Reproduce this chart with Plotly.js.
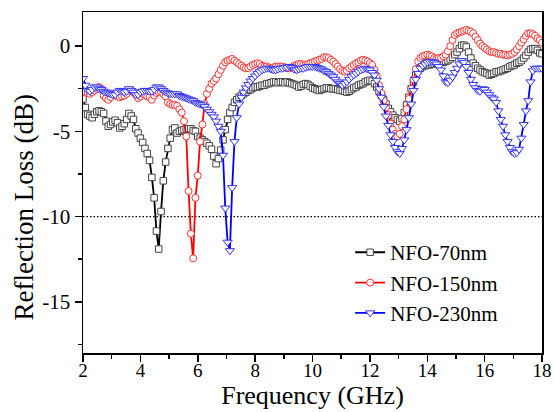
<!DOCTYPE html>
<html><head><meta charset="utf-8">
<script src="https://cdn.plot.ly/plotly-3.0.1.min.js"></script>
<style>html,body{margin:0;padding:0;background:#fff}#chart{width:554px;height:412px}</style>
</head><body><div id="chart"></div>
<script>
// Frequency sweep: 2 to 18 GHz, 0.08 GHz step (201 points)
const fStart = 2, fStep = 0.08;
const seriesNames = ['NFO-70nm', 'NFO-150nm', 'NFO-230nm'];

const rl70 = [
 -3.1,-3.6,-4.0,-4.1,-4.2,-4.0,-3.85,-3.8,-3.85,-3.95,
 -4.4,-4.7,-4.6,-4.45,-4.35,-4.5,-4.8,-4.7,-4.55,-4.3,
 -3.95,-4.1,-4.3,-4.85,-5.1,-5.4,-5.65,-6.0,-6.3,-6.7,
 -7.7,-8.9,-10.85,-11.9,-9.7,-7.9,-6.8,-6.0,-5.4,-4.9,
 -4.8,-5.1,-5.0,-4.95,-4.9,-4.85,-4.85,-4.85,-4.95,-5.0,
 -5.3,-5.4,-5.5,-5.6,-5.7,-5.85,-6.05,-6.45,-6.9,-6.6,
 -6.1,-5.5,-4.9,-4.3,-3.9,-3.6,-3.3,-3.15,-3.0,-2.9,
 -2.8,-2.7,-2.6,-2.55,-2.45,-2.4,-2.4,-2.35,-2.3,-2.3,
 -2.2,-2.2,-2.15,-2.1,-2.1,-2.15,-2.1,-2.1,-2.15,-2.1,
 -2.15,-2.2,-2.25,-2.3,-2.4,-2.35,-2.25,-2.2,-2.25,-2.35,
 -2.45,-2.5,-2.55,-2.6,-2.55,-2.5,-2.45,-2.45,-2.5,-2.5,
 -2.5,-2.55,-2.6,-2.6,-2.65,-2.7,-2.65,-2.55,-2.45,-2.4,
 -2.3,-2.25,-2.2,-2.1,-2.05,-2.0,-2.05,-2.2,-2.4,-2.65,
 -2.9,-3.15,-3.4,-3.65,-3.85,-4.05,-4.2,-4.3,-4.4,-4.25,
 -3.9,-3.45,-3.0,-2.5,-2.1,-1.7,-1.45,-1.3,-1.2,-1.15,
 -1.1,-1.1,-1.05,-1.05,-1.0,-1.0,-0.95,-0.95,-0.9,-0.85,
 -0.75,-0.65,-0.5,-0.35,-0.15,0.05,0.05,-0.05,-0.35,-0.7,
 -1.0,-1.15,-1.3,-1.4,-1.5,-1.55,-1.6,-1.7,-1.65,-1.6,
 -1.5,-1.5,-1.45,-1.4,-1.35,-1.3,-1.2,-1.15,-1.1,-1.0,
 -0.95,-0.85,-0.7,-0.55,-0.35,-0.2,-0.15,-0.15,-0.25,-0.4,
 -0.45
];

const rl150 = [
 -2.6,-2.7,-2.75,-2.8,-2.7,-2.6,-2.5,-2.4,-2.5,-2.9,
 -3.05,-3.15,-3.0,-2.8,-2.85,-2.95,-3.0,-2.95,-2.9,-2.8,
 -2.6,-2.6,-2.7,-2.85,-3.05,-2.95,-2.8,-2.85,-2.95,-3.0,
 -3.15,-2.9,-2.75,-2.7,-2.7,-2.8,-2.95,-3.3,-3.4,-3.45,
 -3.45,-3.5,-3.7,-3.9,-4.4,-5.3,-8.5,-11.0,-12.45,-8.9,
 -7.6,-5.6,-4.6,-3.4,-2.8,-2.5,-2.2,-2.05,-1.9,-1.65,
 -1.4,-1.15,-0.95,-0.85,-0.8,-0.75,-0.85,-0.95,-1.05,-1.15,
 -1.25,-1.3,-1.3,-1.2,-1.1,-1.05,-1.0,-1.05,-1.15,-1.2,
 -1.2,-1.25,-1.3,-1.25,-1.2,-1.2,-1.2,-1.2,-1.25,-1.3,
 -1.3,-1.25,-1.15,-1.1,-1.05,-1.05,-1.1,-1.1,-1.05,-1.0,
 -0.95,-0.9,-0.85,-0.8,-0.75,-0.65,-0.65,-0.7,-0.8,-0.9,
 -1.05,-1.2,-1.35,-1.45,-1.5,-1.45,-1.3,-1.2,-1.1,-1.0,
 -0.95,-0.85,-0.8,-0.85,-0.9,-1.0,-1.1,-1.4,-1.75,-2.3,
 -2.75,-3.2,-3.6,-4.05,-4.55,-4.9,-5.15,-5.3,-5.15,-4.7,
 -4.3,-3.7,-3.1,-2.5,-1.95,-1.35,-0.9,-0.7,-0.6,-0.55,
 -0.5,-0.55,-0.6,-0.7,-0.75,-0.7,-0.7,-0.6,-0.5,-0.3,
 0.0,0.35,0.65,0.75,0.8,0.85,0.9,0.95,0.9,0.85,
 0.75,0.55,0.35,0.15,0.0,-0.1,-0.2,-0.3,-0.35,-0.35,
 -0.4,-0.45,-0.45,-0.5,-0.5,-0.55,-0.5,-0.45,-0.35,-0.2,
 0.0,0.2,0.4,0.6,0.75,0.75,0.7,0.6,0.45,0.35,
 0.2
];

const rl230 = [
 -1.9,-2.3,-2.6,-2.65,-2.55,-2.4,-2.4,-2.5,-2.55,-2.65,
 -2.7,-2.75,-2.8,-2.85,-2.85,-2.7,-2.6,-2.65,-2.7,-2.65,
 -2.5,-2.6,-2.7,-2.85,-2.85,-2.7,-2.65,-2.6,-2.6,-2.65,
 -2.65,-2.55,-2.4,-2.4,-2.5,-2.6,-2.7,-2.75,-2.8,-2.8,
 -2.8,-2.8,-2.9,-2.95,-3.0,-3.05,-3.1,-3.15,-3.2,-3.3,
 -3.35,-3.4,-3.45,-3.55,-3.7,-3.85,-4.0,-4.15,-4.4,-4.7,
 -5.0,-6.4,-9.5,-11.5,-12.0,-8.3,-5.6,-4.2,-3.4,-3.0,
 -2.7,-2.45,-2.25,-2.05,-1.9,-1.75,-1.6,-1.5,-1.4,-1.35,
 -1.3,-1.3,-1.35,-1.4,-1.4,-1.35,-1.3,-1.3,-1.25,-1.25,
 -1.2,-1.25,-1.35,-1.4,-1.35,-1.3,-1.3,-1.25,-1.2,-1.2,
 -1.2,-1.2,-1.25,-1.3,-1.35,-1.45,-1.5,-1.6,-1.7,-1.8,
 -1.95,-2.1,-2.2,-2.3,-2.2,-2.1,-1.95,-1.8,-1.7,-1.6,
 -1.5,-1.4,-1.35,-1.3,-1.35,-1.4,-1.55,-1.7,-2.0,-2.5,
 -3.0,-3.55,-4.1,-4.65,-5.2,-5.6,-5.95,-6.2,-6.3,-6.0,
 -5.5,-4.9,-4.2,-3.4,-2.6,-1.95,-1.6,-1.3,-1.15,-1.05,
 -0.95,-0.9,-0.9,-0.95,-1.05,-1.2,-1.4,-1.75,-2.1,-2.15,
 -2.0,-1.8,-1.55,-1.3,-1.05,-0.85,-0.95,-1.2,-1.55,-1.95,
 -2.25,-2.45,-2.6,-2.65,-2.5,-2.55,-2.7,-2.85,-3.0,-3.1,
 -3.3,-3.8,-4.3,-4.7,-5.2,-5.6,-5.95,-6.2,-6.3,-6.25,
 -6.05,-5.4,-4.6,-3.8,-3.2,-2.1,-1.45,-1.3,-1.3,-1.3,
 -1.3
];

const xTickVals = [2, 4, 6, 8, 10, 12, 14, 16, 18];
const yTickVals = [0, -5, -10, -15];
const yTickText = ['0', '-5', '-10', '-15'];
const threshold = -10;

const freq = rl70.map((_, k) => +(fStart + fStep * k).toFixed(2));

const styles = [
  {line: '#000000', edge: '#444444', symbol: 'square', size: 6.5},
  {line: '#ff0000', edge: '#ff3333', symbol: 'circle', size: 7},
  {line: '#0000ff', edge: '#3333ff', symbol: 'triangle-down', size: 8}
];
const values = [rl70, rl150, rl230];

const traces = values.map((v, i) => ({
  x: freq, y: v, name: seriesNames[i], type: 'scatter', mode: 'lines+markers',
  line: {color: styles[i].line, width: 1.8},
  marker: {symbol: styles[i].symbol, size: styles[i].size, color: '#ffffff',
           line: {color: styles[i].edge, width: 1}}
}));

const axisCommon = {
  showline: true, linecolor: '#000', linewidth: 1.5, mirror: true,
  showgrid: false, zeroline: false, ticks: 'outside', ticklen: 7, tickwidth: 1.5,
  tickcolor: '#000'
};

const layout = {
  width: 554, height: 412,
  margin: {l: 83, r: 12, t: 12, b: 59},
  paper_bgcolor: '#fff', plot_bgcolor: '#fff',
  font: {family: '"Liberation Serif", "Times New Roman", Times, serif', color: '#000'},
  showlegend: true,
  xaxis: Object.assign({}, axisCommon, {
    range: [2, 18], tickmode: 'array', tickvals: xTickVals,
    tickfont: {size: 19, color: '#000'}, ticklabelstandoff: -7,
    minor: {dtick: 1, tick0: 2, ticks: 'outside', ticklen: 4, tickwidth: 1.5, tickcolor: '#000'},
    title: {text: 'Frequency (GHz)', font: {size: 26}, standoff: 3}
  }),
  yaxis: Object.assign({}, axisCommon, {
    range: [-18, 2], tickmode: 'array', tickvals: yTickVals, ticktext: yTickText,
    tickfont: {size: 21, color: '#000'},
    minor: {dtick: 2.5, tick0: 0, ticks: 'outside', ticklen: 4, tickwidth: 1.5, tickcolor: '#000'}
  }),
  annotations: [
    {text: 'Reflection Loss (dB)', xref: 'paper', yref: 'paper',
     x: -0.128, y: 0.4276, xanchor: 'center', yanchor: 'middle',
     textangle: -90, showarrow: false, font: {size: 27, color: '#000'}}
  ],
  legend: {x: 0.582, xanchor: 'left', y: 0.3545, yanchor: 'top',
           bgcolor: 'rgba(0,0,0,0)', font: {size: 21}, tracegroupgap: 0},
  shapes: [{type: 'line', xref: 'x', yref: 'y', x0: 2, x1: 18, y0: threshold, y1: threshold,
            line: {color: '#000', width: 1.3, dash: '1.5px,2px'}, layer: 'below'}]
};

Plotly.newPlot('chart', traces, layout, {displayModeBar: false, staticPlot: true});
</script>
</body></html>
